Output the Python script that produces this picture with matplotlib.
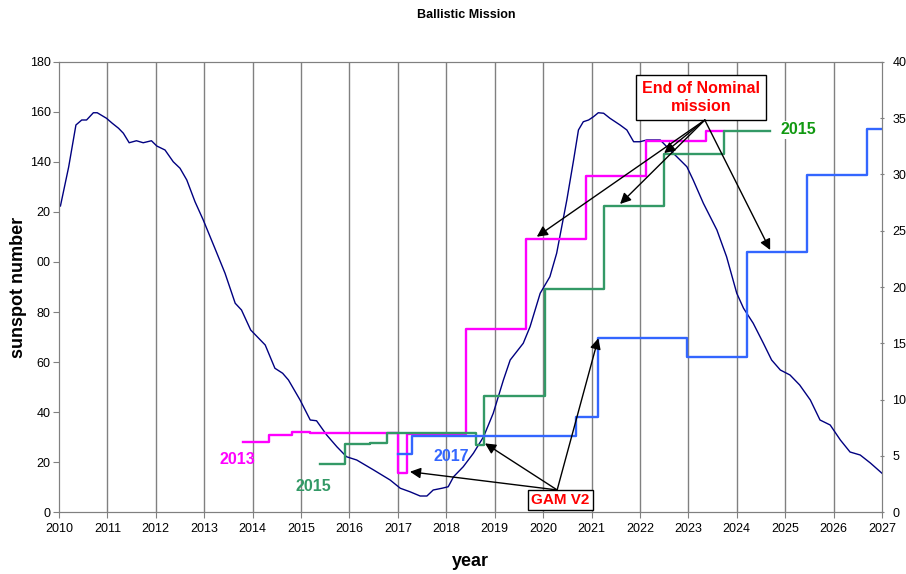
import numpy as np
import matplotlib
matplotlib.use('Agg')
import matplotlib.pyplot as plt

plt.rcParams['font.family'] = ['Liberation Sans', 'DejaVu Sans']

# smoothed sunspot number (left axis)
ss_year = [2010.03, 2010.2, 2010.35, 2010.47, 2010.57, 2010.71, 2010.79, 2010.98, 2011.1, 2011.23,
           2011.33, 2011.45, 2011.6, 2011.74, 2011.91, 2012.02, 2012.19, 2012.36, 2012.5, 2012.64,
           2012.81, 2012.98, 2013.22, 2013.43, 2013.64, 2013.77, 2013.96, 2014.26, 2014.46, 2014.62,
           2014.74, 2014.98, 2015.19, 2015.32, 2015.53, 2015.74, 2015.94, 2016.15, 2016.5, 2016.84,
           2017.05, 2017.25, 2017.46, 2017.6, 2017.73, 2017.91, 2018.04, 2018.15, 2018.35, 2018.56,
           2018.77, 2018.97, 2019.18, 2019.32, 2019.59, 2019.73, 2019.94, 2020.14, 2020.28, 2020.49,
           2020.63, 2020.73, 2020.83, 2020.94, 2021.04, 2021.14, 2021.25, 2021.38, 2021.59, 2021.73,
           2021.87, 2022.0, 2022.14, 2022.42, 2022.62, 2022.83, 2022.97, 2023.1, 2023.31, 2023.59,
           2023.79, 2024.0, 2024.14, 2024.34, 2024.55, 2024.72, 2024.9, 2025.1, 2025.3, 2025.52,
           2025.72, 2025.93, 2026.14, 2026.34, 2026.55, 2026.76, 2027.0]
ss_value = [122.4, 138, 154.8, 156.8, 156.8, 159.7, 159.7, 157.5, 155.5, 153.5,
            151.5, 147.7, 148.5, 147.7, 148.5, 146.4, 144.8, 140.1, 137.5, 132.8,
            124.1, 116.8, 105.5, 95.5, 83.5, 80.8, 72.8, 66.8, 57.5, 55.5,
            52.8, 44.8, 36.8, 36.5, 30.8, 26.1, 22.1, 20.8, 16.8, 12.8,
            9.5, 8.1, 6.4, 6.4, 8.8, 9.5, 10.1, 14.1, 18.1, 23.5,
            30.1, 39.5, 52.8, 60.8, 67.5, 74.1, 87.5, 94.1, 103.5, 124.8,
            140.8, 152.8, 156.1, 156.8, 158.1, 159.7, 159.5, 157.5, 154.8, 152.8,
            148.1, 148.1, 148.8, 148.8, 144.8, 140.8, 138.1, 132.8, 123.5, 112.8,
            102.1, 87.5, 81.5, 75.5, 67.5, 60.8, 56.8, 54.8, 50.8, 44.8,
            36.8, 34.8, 28.8, 24.0, 22.8, 19.6, 15.5]

# mission trajectories (right axis), step changes
m2013_year = [2013.81, 2014.33, 2014.81, 2015.19, 2017.01, 2017.18, 2018.41, 2019.65, 2020.89, 2022.13, 2023.36, 2023.71]
m2013_val = [6.2, 6.84, 7.08, 7.0, 3.5, 6.9, 16.3, 24.3, 29.9, 33.0, 33.9, 33.9]

m2015_year = [2015.39, 2015.91, 2016.43, 2016.77, 2018.62, 2018.77, 2020.03, 2021.26, 2022.5, 2023.73, 2024.68]
m2015_val = [4.24, 6.02, 6.15, 7.0, 5.96, 10.34, 19.8, 27.2, 31.8, 33.9, 33.9]

m2017_year = [2017.01, 2017.3, 2020.68, 2021.13, 2022.98, 2024.22, 2025.45, 2026.69, 2027.0]
m2017_val = [5.2, 6.76, 8.47, 15.5, 13.75, 23.1, 29.96, 34.07, 34.07]

years = list(range(2010, 2028))
left_ticks = [0, 20, 40, 60, 80, 100, 120, 140, 160, 180]
left_labels = ['0', '20', '40', '60', '80', '00', '20', '140', '160', '180']

fig = plt.figure(figsize=(9.06, 5.74), dpi=100)
ax = fig.add_axes([0.0651, 0.108, 0.9084, 0.784])
ax2 = ax.twinx()

for y in years[1:-1]:
    ax.axvline(y, color='#808080', lw=1, zorder=0)

ax.plot(ss_year, ss_value, color='#000080', lw=1)
ax.set_xlim(2010, 2027)
ax.set_ylim(0, 180)
ax.set_xticks(years)
ax.set_xticklabels([str(y) for y in years], fontsize=9)
ax.set_yticks(left_ticks)
ax.set_yticklabels(left_labels, fontsize=9)
ax.tick_params(axis='x', length=4, color='#808080', pad=4)
ax.tick_params(axis='y', length=4, color='#808080', pad=2)

ax2.plot(m2013_year, m2013_val, color='#FF00FF', lw=1.7, drawstyle='steps-post')
ax2.plot(m2015_year, m2015_val, color='#339966', lw=1.7, drawstyle='steps-post')
ax2.plot(m2017_year, m2017_val, color='#3366FF', lw=1.7, drawstyle='steps-post')
ax2.set_ylim(0, 40)
ax2.set_yticks(range(0, 45, 5))
ax2.tick_params(axis='y', labelsize=9, length=3, direction='inout', color='#808080', pad=6)

for a in (ax, ax2):
    for s in a.spines.values():
        s.set_color('#808080')

ax.set_xlabel('year', fontsize=13, fontweight='bold', labelpad=13)
ax.set_ylabel('sunspot number', fontsize=13, fontweight='bold', labelpad=2)
fig.suptitle('Ballistic Mission', x=0.515, y=0.985, fontsize=9, fontweight='bold')

# curve labels
ax2.text(2013.68, 4.7, '2013', color='#FF00FF', fontsize=11.5, fontweight='bold', ha='center', va='center')
ax2.text(2015.25, 2.3, '2015', color='#339966', fontsize=11.5, fontweight='bold', ha='center', va='center')
ax2.text(2018.1, 4.9, '2017', color='#3366FF', fontsize=11.5, fontweight='bold', ha='center', va='center')
ax2.text(2025.27, 33.96, '2015', color='#119911', fontsize=11.5, fontweight='bold', ha='center', va='center',
         bbox=dict(facecolor='white', edgecolor='none', pad=1))

# End of nominal mission callout
ax2.text(2023.26, 36.84, 'End of Nominal\nmission', color='red', fontsize=11.5, fontweight='bold',
         ha='center', va='center', linespacing=1.25,
         bbox=dict(facecolor='white', edgecolor='black', boxstyle='square,pad=0.4'))
nominal_origin = (2023.34, 34.84)
for tip in [(2019.87, 24.47), (2021.59, 27.38), (2024.69, 23.29), (2022.5, 31.9)]:
    ax2.annotate('', xy=tip, xytext=nominal_origin,
                 arrowprops=dict(arrowstyle='-|>', color='black', lw=1, mutation_scale=16,
                                 shrinkA=0, shrinkB=0))

# GAM V2 callout
ax2.text(2020.36, 1.07, 'GAM V2', color='red', fontsize=11, fontweight='bold', ha='center', va='center',
         bbox=dict(facecolor='white', edgecolor='black', boxstyle='square,pad=0.2'))
gam_origin = (2020.29, 1.96)
for tip in [(2017.25, 3.58), (2018.8, 6.1), (2021.14, 15.44)]:
    ax2.annotate('', xy=tip, xytext=gam_origin,
                 arrowprops=dict(arrowstyle='-|>', color='black', lw=1, mutation_scale=16,
                                 shrinkA=0, shrinkB=0))

fig.savefig('out.png', dpi=100, facecolor='white')
